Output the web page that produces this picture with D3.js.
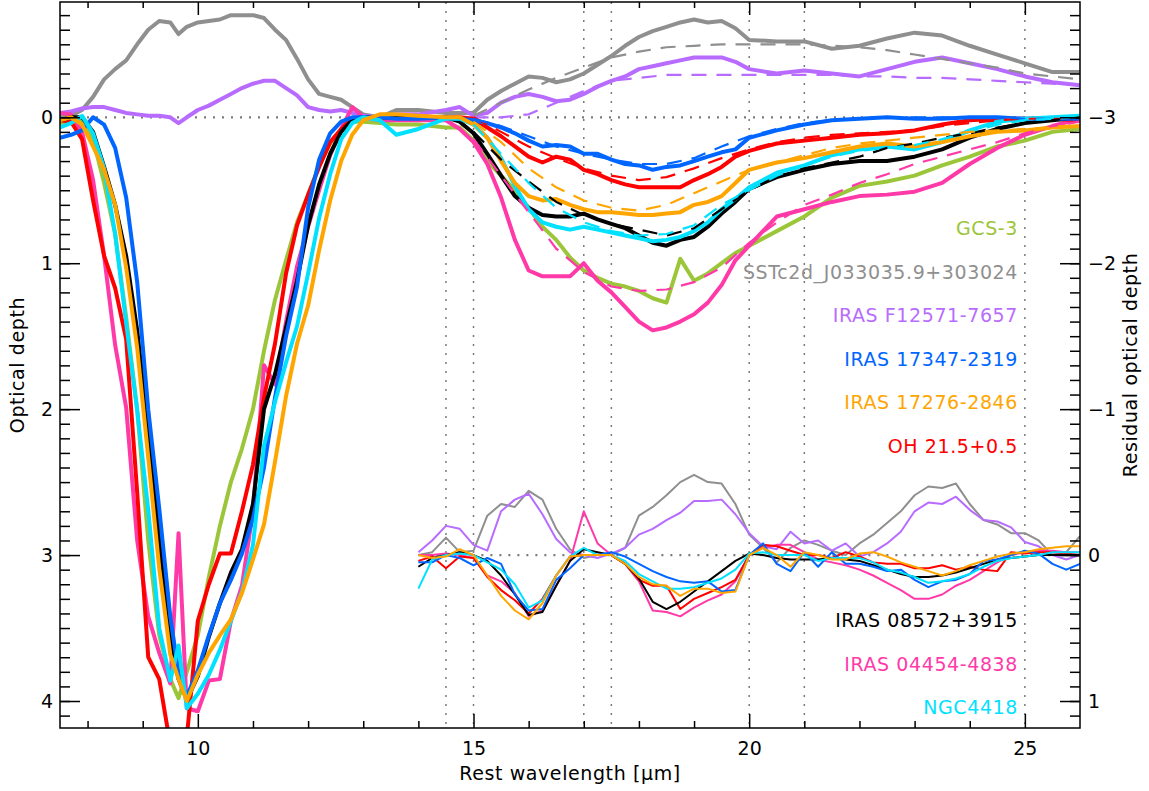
<!DOCTYPE html>
<html>
<head>
<meta charset="utf-8">
<script src="https://cdn.jsdelivr.net/npm/d3@7"></script>
<style>
  body { margin: 0; background: #fff; }
  text { font-family: "DejaVu Sans", sans-serif; }
</style>
</head>
<body>
<div id="chart"></div>
<script>
// wavelength grid of the spectra (micron)
const wave = [7.5, 7.7, 7.9, 8.1, 8.3, 8.5, 8.7, 8.9, 9.1, 9.3, 9.5, 9.65, 9.8,
  10.0, 10.2, 10.4, 10.6, 10.8, 11.0, 11.2, 11.4, 11.6, 11.8, 12.0, 12.2, 12.4, 12.6, 12.8,
  13.0, 13.3, 13.6, 14.0,
  14.5, 14.75, 15.0, 15.25, 15.5, 15.75, 16.0, 16.25, 16.5, 16.75, 17.0, 17.25, 17.5, 17.75,
  18.0, 18.25, 18.5, 18.75, 19.0, 19.25, 19.5, 19.75, 20.0,
  20.5, 21.0, 21.5, 22.0, 22.5, 23.0, 23.5, 24.0, 24.5, 25.0, 25.5, 26.0];

// optical depth spectra
const tauGCS3 = [0.04, 0.03, 0.02, 0.15, 0.45, 0.8, 1.37, 2.0, 2.9, 3.55, 3.85, 3.98, 3.8,
  3.55, 3.15, 2.8, 2.5, 2.27, 2.0, 1.6, 1.25, 0.98, 0.72, 0.53, 0.33, 0.18, 0.09, 0.03,
  0.03, 0.04, 0.05, 0.05,
  0.07, 0.07, 0.16, 0.3, 0.4, 0.5, 0.62, 0.75, 0.84, 0.96, 1.05, 1.1, 1.14, 1.16, 1.19, 1.24, 1.27, 0.97, 1.12, 1.07, 1.0, 0.93, 0.88,
  0.78, 0.68, 0.55, 0.47, 0.44, 0.4, 0.33, 0.27, 0.2, 0.16, 0.1, 0.08];
const tauSSTc2d = [0.0, -0.01, -0.05, -0.14, -0.26, -0.33, -0.39, -0.5, -0.6, -0.66, -0.65, -0.57, -0.62,
  -0.65, -0.66, -0.67, -0.7, -0.7, -0.7, -0.68, -0.6, -0.53, -0.4, -0.26, -0.16, -0.14, -0.12, -0.07,
  -0.02, 0.0, -0.05, -0.05,
  -0.03, -0.03, -0.03, -0.12, -0.18, -0.23, -0.28, -0.27, -0.24, -0.26, -0.3, -0.36, -0.42, -0.49, -0.55, -0.59, -0.62, -0.65, -0.67, -0.65, -0.66, -0.61, -0.53,
  -0.52, -0.52, -0.47, -0.49, -0.54, -0.58, -0.56, -0.49, -0.43, -0.37, -0.31, -0.31];
const tauF12571 = [-0.03, -0.04, -0.06, -0.07, -0.07, -0.05, -0.03, -0.02, -0.01, -0.01, 0.0, 0.04, 0.0,
  -0.05, -0.08, -0.12, -0.16, -0.2, -0.23, -0.25, -0.25, -0.2, -0.15, -0.07, -0.05, -0.04, -0.05, -0.03,
  -0.01, 0.0, -0.02, -0.02,
  -0.05, -0.07, -0.01, -0.03, -0.1, -0.14, -0.16, -0.14, -0.11, -0.12, -0.16, -0.21, -0.25, -0.28, -0.33, -0.35, -0.37, -0.39, -0.41, -0.41, -0.41, -0.38, -0.33,
  -0.3, -0.32, -0.3, -0.28, -0.33, -0.38, -0.41, -0.37, -0.33, -0.28, -0.24, -0.22];
const tau17347 = [0.14, 0.12, 0.09, 0.0, 0.05, 0.21, 0.55, 1.13, 2.0, 2.68, 3.42, 3.81, 3.97,
  3.79, 3.55, 3.33, 3.17, 2.99, 2.75, 2.4, 1.92, 1.5, 1.16, 0.62, 0.29, 0.11, 0.03, 0.0,
  0.0, 0.0, 0.01, 0.01,
  0.0, 0.01, 0.02, 0.04, 0.07, 0.11, 0.16, 0.2, 0.19, 0.2, 0.25, 0.25, 0.29, 0.32, 0.33, 0.36, 0.34, 0.33, 0.3, 0.27, 0.24, 0.22, 0.14,
  0.09, 0.05, 0.02, 0.01, 0.0, 0.01, 0.01, 0.0, 0.0, 0.01, 0.01, 0.01];
const tau17276 = [0.02, 0.0, 0.05, 0.2, 0.36, 0.6, 1.03, 1.58, 2.33, 3.09, 3.68, 3.85, 4.0,
  3.82, 3.67, 3.55, 3.44, 3.26, 3.03, 2.79, 2.36, 1.91, 1.55, 1.29, 0.91, 0.57, 0.3, 0.12,
  0.02, -0.02, -0.02, -0.01,
  0.0, 0.0, 0.05, 0.14, 0.3, 0.45, 0.54, 0.57, 0.56, 0.6, 0.63, 0.65, 0.65, 0.66, 0.67, 0.67, 0.66, 0.65, 0.6, 0.58, 0.54, 0.45, 0.36,
  0.31, 0.28, 0.24, 0.2, 0.18, 0.2, 0.17, 0.13, 0.1, 0.09, 0.07, 0.06];
const tauOH215 = [0.02, 0.03, 0.15, 0.57, 0.95, 1.17, 1.52, 2.57, 3.7, 3.85, 4.3, 4.3, 4.25,
  3.45, 3.2, 2.99, 2.99, 2.7, 2.38, 1.92, 1.55, 1.07, 0.74, 0.53, 0.34, 0.17, 0.08, 0.01,
  0.0, 0.0, 0.0, 0.0,
  0.0, 0.0, 0.01, 0.07, 0.13, 0.2, 0.27, 0.31, 0.27, 0.29, 0.36, 0.39, 0.43, 0.46, 0.48, 0.48, 0.48, 0.48, 0.43, 0.39, 0.34, 0.27, 0.23,
  0.18, 0.16, 0.14, 0.12, 0.11, 0.09, 0.05, 0.02, 0.01, 0.01, 0.01, 0.02];
const tau08572 = [0.02, 0.0, 0.0, 0.1, 0.34, 0.6, 0.95, 1.46, 2.15, 2.89, 3.55, 3.85, 3.99,
  3.83, 3.56, 3.33, 3.12, 2.96, 2.65, 2.0, 1.76, 1.44, 1.12, 0.74, 0.46, 0.25, 0.1, 0.02,
  0.0, 0.0, 0.0, 0.0,
  0.0, 0.03, 0.11, 0.25, 0.4, 0.54, 0.62, 0.67, 0.68, 0.68, 0.66, 0.7, 0.73, 0.76, 0.81, 0.86, 0.88, 0.84, 0.82, 0.75, 0.66, 0.58, 0.49,
  0.41, 0.36, 0.32, 0.3, 0.3, 0.27, 0.22, 0.14, 0.08, 0.04, 0.02, 0.0];
const tau04454 = [-0.03, -0.02, 0.1, 0.43, 0.95, 1.56, 1.99, 2.9, 3.42, 3.67, 3.88, 2.85, 4.05,
  4.07, 3.86, 3.85, 3.45, 3.21, 2.7, 1.7, 1.83, 1.4, 1.02, 0.75, 0.5, 0.26, 0.08, -0.07,
  0.0, 0.02, 0.02, 0.02,
  0.02, 0.08, 0.17, 0.32, 0.55, 0.84, 1.05, 1.09, 1.09, 1.09, 1.0, 1.12, 1.2, 1.3, 1.4, 1.46, 1.44, 1.4, 1.35, 1.27, 1.15, 0.98, 0.88,
  0.68, 0.63, 0.58, 0.54, 0.53, 0.51, 0.45, 0.32, 0.21, 0.12, 0.06, 0.01];
const tauNGC4418 = [0.07, 0.04, -0.01, 0.11, 0.35, 0.8, 1.41, 2.01, 2.69, 3.5, 3.86, 3.62, 4.05,
  3.95, 3.82, 3.65, 3.45, 3.25, 2.93, 2.25, 1.95, 1.68, 1.43, 1.07, 0.69, 0.39, 0.15, 0.04,
  0.0, 0.02, 0.12, 0.08,
  0.01, 0.01, 0.05, 0.14, 0.28, 0.47, 0.63, 0.72, 0.75, 0.77, 0.75, 0.77, 0.79, 0.81, 0.83, 0.85, 0.84, 0.82, 0.78, 0.72, 0.63, 0.56, 0.48,
  0.38, 0.33, 0.26, 0.22, 0.2, 0.22, 0.17, 0.09, 0.03, 0.01, 0.0, -0.01];

// model fits (dashed)
const fitWave = [15, 15.5, 16, 16.5, 17, 17.5, 18, 18.5, 19, 19.5, 20, 20.5, 21, 21.5, 22, 22.5, 23, 23.5, 24, 24.5, 25, 25.5, 26];
const fitSSTc2d = [-0.01, -0.1, -0.19, -0.27, -0.34, -0.41, -0.45, -0.48, -0.49, -0.5, -0.5, -0.5, -0.5, -0.49, -0.48, -0.46, -0.43, -0.4, -0.37, -0.34, -0.3, -0.28, -0.26];
const fitF12571 = [0.0, 0.0, -0.02, -0.1, -0.18, -0.25, -0.27, -0.29, -0.29, -0.29, -0.29, -0.29, -0.29, -0.29, -0.28, -0.28, -0.27, -0.27, -0.26, -0.25, -0.24, -0.23, -0.22];
const fit17347 = [0.01, 0.06, 0.13, 0.2, 0.25, 0.29, 0.32, 0.32, 0.28, 0.2, 0.13, 0.08, 0.04, 0.02, 0.01, 0.0, 0.0, 0.0, 0.0, 0.0, 0.01, 0.01, 0.01];
const fit17276 = [0.03, 0.17, 0.35, 0.48, 0.57, 0.62, 0.64, 0.6, 0.52, 0.44, 0.36, 0.31, 0.26, 0.21, 0.18, 0.16, 0.14, 0.12, 0.1, 0.09, 0.08, 0.07, 0.06];
const fitOH215 = [0.0, 0.1, 0.2, 0.28, 0.35, 0.4, 0.43, 0.41, 0.35, 0.28, 0.22, 0.17, 0.14, 0.12, 0.11, 0.1, 0.09, 0.06, 0.04, 0.02, 0.01, 0.01, 0.01];
const fit08572 = [0.1, 0.29, 0.44, 0.58, 0.67, 0.73, 0.77, 0.81, 0.76, 0.63, 0.5, 0.41, 0.35, 0.31, 0.27, 0.21, 0.18, 0.14, 0.11, 0.07, 0.04, 0.02, 0.0];
const fit04454 = [0.15, 0.4, 0.65, 0.9, 1.06, 1.16, 1.19, 1.18, 1.13, 1.03, 0.86, 0.72, 0.6, 0.53, 0.45, 0.39, 0.32, 0.27, 0.22, 0.17, 0.11, 0.06, 0.03];
const fitNGC4418 = [0.05, 0.25, 0.45, 0.62, 0.72, 0.78, 0.81, 0.8, 0.74, 0.6, 0.5, 0.4, 0.33, 0.27, 0.23, 0.21, 0.19, 0.15, 0.1, 0.05, 0.02, 0.01, 0.0];

// residual optical depth (right axis)
const resWave = [14, 14.25, 14.5, 14.75, 15, 15.25, 15.5, 15.75, 16, 16.25, 16.5, 16.75, 17, 17.25, 17.5, 17.75,
  18, 18.25, 18.5, 18.75, 19, 19.25, 19.5, 19.75, 20, 20.25, 20.5, 20.75, 21, 21.25, 21.5, 21.75,
  22, 22.25, 22.5, 22.75, 23, 23.25, 23.5, 23.75, 24, 24.25, 24.5, 24.75, 25, 25.25, 25.5, 25.75, 26];
const resSSTc2d = [0.0, -0.02, -0.12, -0.02, -0.03, -0.27, -0.35, -0.33, -0.44, -0.38, -0.18, -0.04, 0.02, 0.0, 0.0, -0.05,
  -0.27, -0.33, -0.41, -0.5, -0.55, -0.5, -0.49, -0.35, -0.14, -0.05, 0.05, -0.05, -0.1, -0.07, -0.03, 0.0,
  -0.08, -0.14, -0.22, -0.3, -0.41, -0.47, -0.46, -0.49, -0.35, -0.24, -0.21, -0.15, -0.15, -0.1, 0.0, -0.02, -0.13];
const resF12571 = [-0.02, -0.1, -0.2, -0.18, -0.07, -0.03, -0.3, -0.38, -0.42, -0.28, -0.11, -0.02, 0.0, 0.02, -0.01, -0.05,
  -0.14, -0.18, -0.24, -0.29, -0.37, -0.37, -0.38, -0.28, -0.15, -0.06, -0.04, -0.16, -0.08, -0.1, -0.03, -0.08,
  0.01, -0.02, -0.08, -0.16, -0.3, -0.36, -0.35, -0.4, -0.31, -0.24, -0.23, -0.19, -0.09, -0.06, 0.0, 0.03, 0.0];
const res17347 = [0.05, 0.05, 0.0, 0.02, 0.07, 0.02, 0.06, 0.27, 0.38, 0.37, 0.17, 0.09, 0.0, 0.0, -0.02, 0.01,
  0.06, 0.11, 0.15, 0.18, 0.19, 0.18, 0.25, 0.24, 0.0, -0.08, 0.06, 0.11, -0.02, 0.08, -0.02, 0.06,
  0.06, 0.08, 0.11, 0.1, 0.17, 0.22, 0.18, 0.17, 0.13, 0.04, 0.03, 0.0, -0.03, -0.01, 0.06, 0.1, 0.06];
const res17276 = [0.0, 0.02, 0.01, -0.04, 0.0, 0.14, 0.28, 0.38, 0.44, 0.33, 0.14, 0.01, 0.0, 0.0, 0.0, 0.06,
  0.15, 0.2, 0.21, 0.28, 0.23, 0.23, 0.26, 0.25, 0.0, -0.05, 0.0, 0.08, -0.02, 0.0, 0.03, 0.03,
  -0.01, -0.02, 0.01, 0.05, 0.08, 0.11, 0.14, 0.11, 0.07, 0.04, 0.01, -0.01, -0.02, -0.04, -0.05, -0.06, -0.06];
const resOH215 = [0.04, 0.01, 0.09, 0.01, 0.02, 0.15, 0.24, 0.31, 0.4, 0.3, 0.14, 0.01, 0.0, 0.0, 0.0, 0.06,
  0.17, 0.21, 0.21, 0.37, 0.3, 0.26, 0.22, 0.17, 0.0, -0.07, -0.06, -0.03, 0.0, 0.0, 0.02, -0.02,
  0.01, 0.05, 0.06, 0.06, 0.09, 0.09, 0.07, 0.1, 0.08, 0.1, 0.11, -0.02, -0.01, -0.02, -0.02, -0.01, 0.0];
const res08572 = [0.08, 0.02, 0.0, -0.02, 0.0, 0.04, 0.14, 0.27, 0.41, 0.39, 0.21, 0.04, -0.04, -0.02, 0.0, 0.06,
  0.16, 0.32, 0.37, 0.32, 0.25, 0.18, 0.11, 0.04, -0.01, 0.0, 0.02, 0.03, 0.03, 0.03, 0.02, 0.03,
  0.04, 0.07, 0.1, 0.13, 0.15, 0.15, 0.14, 0.12, 0.09, 0.06, 0.03, 0.02, 0.01, 0.0, 0.0, 0.0, 0.0];
const res04454 = [0.0, 0.0, -0.01, 0.0, 0.02, 0.14, 0.18, 0.26, 0.42, 0.38, 0.21, 0.04, -0.3, -0.08, 0.0, 0.06,
  0.18, 0.38, 0.39, 0.42, 0.36, 0.31, 0.27, 0.18, 0.0, -0.05, -0.07, -0.07, -0.02, 0.03, 0.05, 0.07,
  0.1, 0.14, 0.19, 0.24, 0.3, 0.3, 0.27, 0.21, 0.17, 0.11, 0.05, 0.0, -0.02, -0.03, -0.03, -0.02, -0.02];
const resNGC4418 = [0.23, 0.03, 0.0, -0.01, 0.0, 0.05, 0.1, 0.2, 0.36, 0.31, 0.14, 0.01, -0.05, 0.0, 0.0, 0.04,
  0.13, 0.18, 0.23, 0.23, 0.22, 0.19, 0.16, 0.1, -0.01, -0.02, 0.0, 0.0, 0.0, 0.04, 0.02, 0.02,
  0.02, 0.05, 0.1, 0.12, 0.15, 0.19, 0.18, 0.16, 0.13, 0.08, 0.04, 0.02, 0.01, 0.0, -0.02, -0.02, -0.02];

// axis ticks and reference lines
const xMajorTicks = [10, 15, 20, 25];
const yMajorTicks = [0, 1, 2, 3, 4];
const resMajorTicks = [-3, -2, -1, 0, 1];
const dottedWaves = [14.5, 15, 17, 17.5, 20, 21, 25];

// sources, in drawing order
var sources = [
    { name: "SSTc2d_J033035.9+303024", color: "#8f8f8f", tau: tauSSTc2d, fit: fitSSTc2d, res: resSSTc2d },
    { name: "IRAS F12571-7657", color: "#b86cff", tau: tauF12571, fit: fitF12571, res: resF12571 },
    { name: "GCS-3", color: "#9cc63a", tau: tauGCS3, fit: null, res: null },
    { name: "IRAS 04454-4838", color: "#ff3aa8", tau: tau04454, fit: fit04454, res: res04454 },
    { name: "OH 21.5+0.5", color: "#ff0000", tau: tauOH215, fit: fitOH215, res: resOH215 },
    { name: "IRAS 08572+3915", color: "#000000", tau: tau08572, fit: fit08572, res: res08572 },
    { name: "IRAS 17347-2319", color: "#0066ff", tau: tau17347, fit: fit17347, res: res17347 },
    { name: "NGC4418", color: "#00e1ff", tau: tauNGC4418, fit: fitNGC4418, res: resNGC4418 },
    { name: "IRAS 17276-2846", color: "#ffa500", tau: tau17276, fit: fit17276, res: res17276 }
];
var upperLabels = ["GCS-3", "SSTc2d_J033035.9+303024", "IRAS F12571-7657", "IRAS 17347-2319", "IRAS 17276-2846", "OH 21.5+0.5"];
var lowerLabels = ["IRAS 08572+3915", "IRAS 04454-4838", "NGC4418"];

// setup dimensions (plot box in pixels)
var width = 1149, height = 791;
var plotL = 60, plotR = 1080, plotT = 2, plotB = 728;

var svg = d3.select('#chart').append('svg').attr("width", width).attr("height", height);

var x = d3.scaleLinear().domain([7.5, 26]).range([plotL, plotR]);
var y = d3.scaleLinear().domain([-0.79, 4.185]).range([plotT, plotB]);
var yRes = d3.scaleLinear().domain([-3.79, 1.185]).range([plotT, plotB]);

svg.append("clipPath").attr("id", "plotClip")
    .append("rect")
    .attr("x", plotL).attr("y", plotT)
    .attr("width", plotR - plotL).attr("height", plotB - plotT);

// dotted reference lines
var refs = svg.append("g").attr("clip-path", "url(#plotClip)")
    .style("stroke", "#7a7a7a").style("stroke-dasharray", "2,7");
refs.selectAll("line.vref")
    .data(dottedWaves)
    .enter()
    .append("line")
    .attr("class", "vref")
    .attr("x1", function (d) { return x(d); })
    .attr("x2", function (d) { return x(d); })
    .attr("y1", plotT).attr("y2", plotB)
    .style("stroke-width", 1.5);
refs.append("line")
    .attr("x1", x(7.5)).attr("x2", x(26))
    .attr("y1", y(0)).attr("y2", y(0))
    .style("stroke-width", 2.2);
refs.append("line")
    .attr("x1", x(14)).attr("x2", x(26))
    .attr("y1", yRes(0)).attr("y2", yRes(0))
    .style("stroke-width", 2.2);

var line = d3.line().x(function (d) { return x(d[0]); }).y(function (d) { return y(d[1]); });
var resLine = d3.line().x(function (d) { return x(d[0]); }).y(function (d) { return yRes(d[1]); });

var plot = svg.append("g").attr("clip-path", "url(#plotClip)");

// thick spectra
sources.forEach(function (s) {
    plot.append("path")
        .datum(d3.zip(wave, s.tau))
        .attr("d", line)
        .style("fill", "none")
        .style("stroke", s.color)
        .style("stroke-width", 4)
        .style("stroke-linejoin", "round");
});

// dashed fits
sources.filter(function (s) { return s.fit; }).forEach(function (s) {
    plot.append("path")
        .datum(d3.zip(fitWave, s.fit))
        .attr("d", line)
        .style("fill", "none")
        .style("stroke", s.color)
        .style("stroke-width", 2.2)
        .style("stroke-dasharray", "15,10");
});

// thin residuals
sources.filter(function (s) { return s.res; }).forEach(function (s) {
    plot.append("path")
        .datum(d3.zip(resWave, s.res))
        .attr("d", resLine)
        .style("fill", "none")
        .style("stroke", s.color)
        .style("stroke-width", 2)
        .style("stroke-linejoin", "round");
});

// axes, ticks pointing inward
function addAxis(axis, tx, ty) {
    var g = svg.append("g")
        .attr("transform", "translate(" + tx + "," + ty + ")")
        .call(axis);
    g.select(".domain").remove();
    g.selectAll("line").style("stroke", "#000").style("stroke-width", 1.5);
    g.attr("font-size", 19).attr("font-family", "DejaVu Sans, sans-serif");
    g.selectAll("text").style("fill", "#000");
    return g;
}
var yMinor = d3.range(-7, 42).map(function (i) { return i / 10; });
var resMinor = d3.range(-37, 12).map(function (i) { return i / 10; });
var xMinor = d3.range(8, 26).filter(function (d) { return d % 5 != 0; });

addAxis(d3.axisLeft(y).tickValues(yMinor).tickSize(-10).tickFormat(""), plotL, 0);
addAxis(d3.axisLeft(y).tickValues(yMajorTicks).tickSize(-20).tickPadding(7).tickFormat(d3.format("d")), plotL, 0);
addAxis(d3.axisRight(yRes).tickValues(resMinor).tickSize(-10).tickFormat(""), plotR, 0);
addAxis(d3.axisRight(yRes).tickValues(resMajorTicks).tickSize(-20).tickPadding(8).tickFormat(d3.format("d")), plotR, 0);
addAxis(d3.axisBottom(x).tickValues(xMinor).tickSize(-7).tickFormat(""), 0, plotB);
addAxis(d3.axisBottom(x).tickValues(xMajorTicks).tickSize(-14).tickPadding(14).tickFormat(d3.format("d")), 0, plotB);
addAxis(d3.axisTop(x).tickValues(xMinor).tickSize(-6).tickFormat(""), 0, plotT);
addAxis(d3.axisTop(x).tickValues(xMajorTicks).tickSize(-13).tickFormat(""), 0, plotT);

// frame
svg.append("rect")
    .attr("x", plotL).attr("y", plotT)
    .attr("width", plotR - plotL).attr("height", plotB - plotT)
    .style("fill", "none").style("stroke", "#000").style("stroke-width", 1.5);

// axis titles
svg.append("text")
    .attr("x", (plotL + plotR) / 2).attr("y", 780)
    .attr("text-anchor", "middle")
    .style("font-size", "19px").style("letter-spacing", "0.6px")
    .text("Rest wavelength [μm]");
svg.append("text")
    .attr("transform", "translate(24," + (plotT + plotB) / 2 + ") rotate(-90)")
    .attr("text-anchor", "middle")
    .style("font-size", "19px").style("letter-spacing", "0.6px")
    .text("Optical depth");
svg.append("text")
    .attr("transform", "translate(1137," + (plotT + plotB) / 2 + ") rotate(-90)")
    .attr("text-anchor", "middle")
    .style("font-size", "19px").style("letter-spacing", "0.6px")
    .text("Residual optical depth");

// source labels
function colorOf(name) {
    return sources.filter(function (s) { return s.name == name; })[0].color;
}
function addLabels(names, y0) {
    svg.selectAll(null)
        .data(names)
        .enter()
        .append("text")
        .attr("x", 1018)
        .attr("y", function (d, i) { return y0 + i * 43.6; })
        .attr("text-anchor", "end")
        .style("font-size", "19px").style("letter-spacing", "0.6px")
        .style("fill", function (d) { return colorOf(d); })
        .text(function (d) { return d; });
}
addLabels(upperLabels, 235);
addLabels(lowerLabels, 627);
</script>
</body>
</html>
